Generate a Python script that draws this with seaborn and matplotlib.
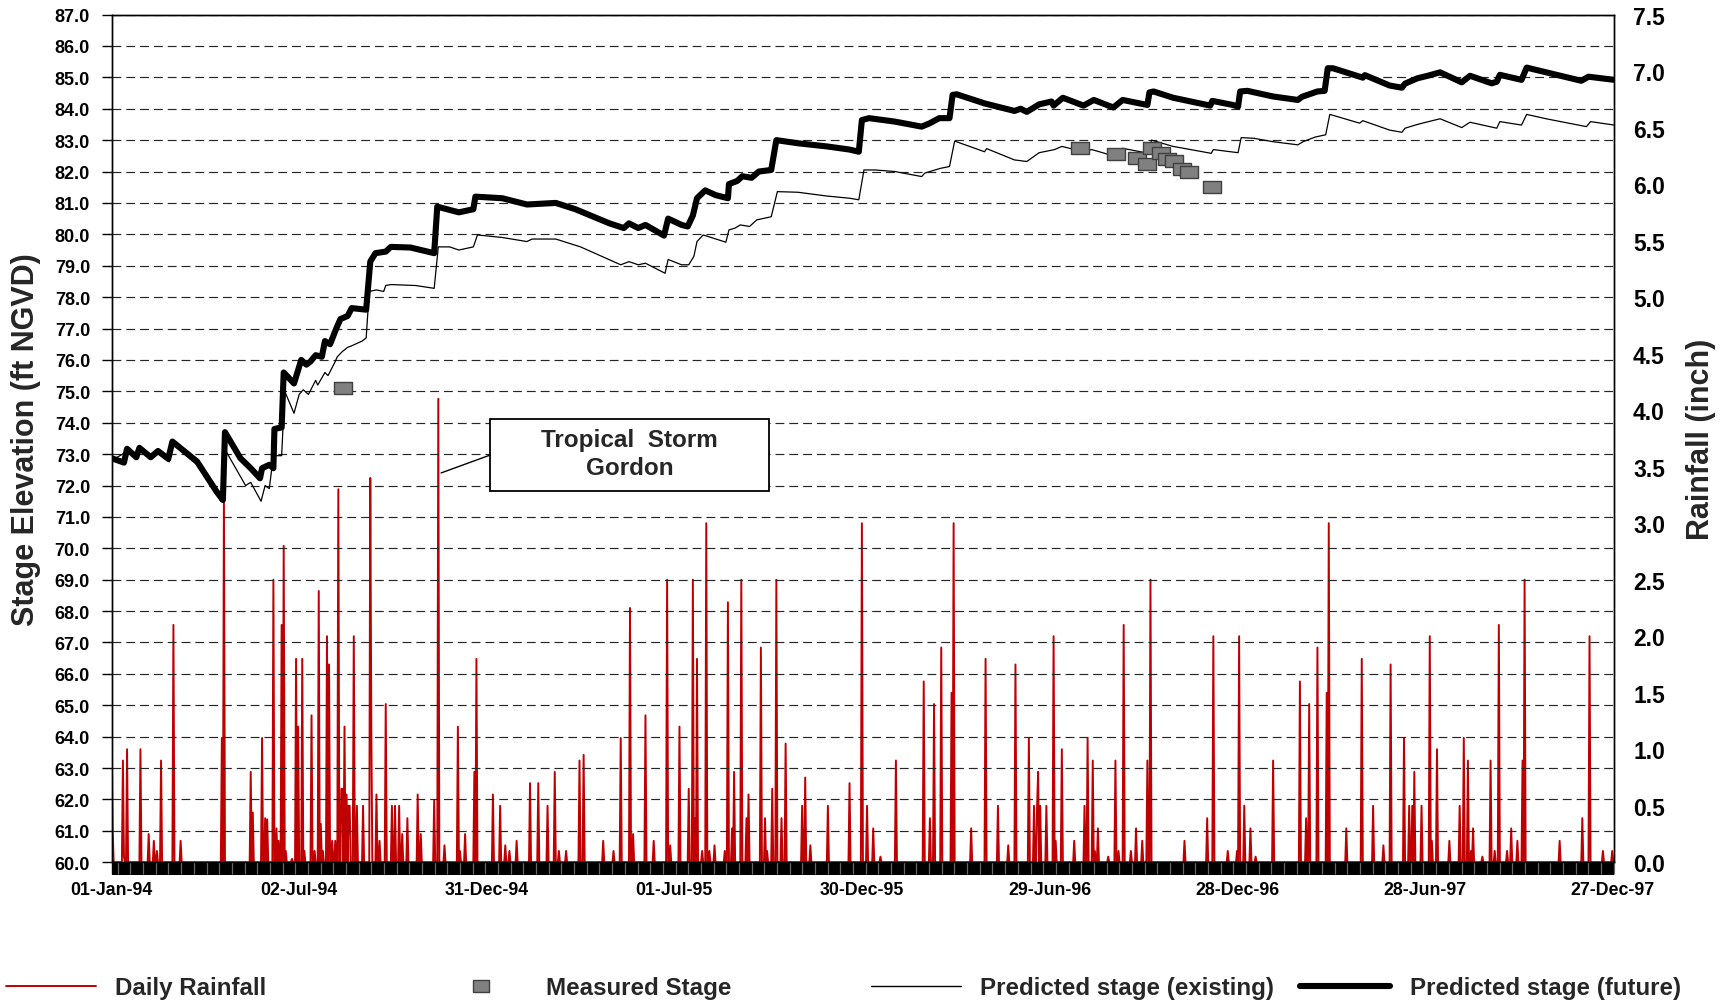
import numpy as np
import pandas as pd
import matplotlib
matplotlib.use("Agg")
import matplotlib.pyplot as plt
import matplotlib.dates as mdates
import seaborn as sns
from matplotlib.lines import Line2D
from matplotlib.patches import Rectangle
from matplotlib.ticker import FixedLocator, FormatStrFormatter

# ---------------- data ----------------
start_date = "1994-01-01"

# daily rainfall (inch): days since 01-Jan-94 with rain, and amount
rain_day = [0, 1, 11, 12, 15, 28, 36, 41, 44, 48, 60, 67, 107, 109, 135, 137, 146, 149, 151,
            157, 160, 162, 165, 167, 169, 175, 179, 181, 185, 187, 194, 197, 201, 203, 205,
            209, 211, 214, 217, 220, 223, 224, 226, 228, 230, 231, 235, 238, 244, 251, 252,
            257, 260, 266, 272, 275, 279, 282, 287, 297, 300, 313, 317, 323, 336, 338, 343,
            352, 354, 370, 377, 382, 386, 393, 406, 414, 423, 430, 434, 441, 454, 458, 477,
            487, 494, 503, 506, 518, 526, 539, 542, 551, 560, 564, 566, 568, 573, 577, 580,
            585, 595, 598, 602, 604, 611, 616, 618, 630, 634, 636, 641, 645, 650, 654, 670,
            673, 678, 695, 716, 728, 733, 739, 746, 761, 788, 794, 798, 805, 815, 817, 834,
            848, 860, 870, 877, 890, 895, 898, 899, 901, 907, 914, 916, 922, 934, 944, 947,
            952, 954, 957, 967, 974, 977, 982, 989, 994, 1000, 1005, 1008, 1041, 1063, 1069,
            1083, 1092, 1094, 1099, 1105, 1110, 1127, 1153, 1159, 1162, 1170, 1179, 1181,
            1198, 1213, 1224, 1234, 1241, 1254, 1259, 1262, 1264, 1271, 1279, 1281, 1286,
            1298, 1308, 1312, 1316, 1319, 1321, 1330, 1338, 1342, 1346, 1354, 1358, 1364,
            1369, 1371, 1405, 1427, 1434, 1447, 1456]
rain_in = [1.2, 0.3, 0.9, 0.05, 1.0, 1.0, 0.25, 0.19, 0.1, 0.9, 2.1, 0.19, 1.1, 3.24, 0.8, 0.44,
           1.1, 0.39, 0.38, 2.5, 0.3, 0.19, 2.1, 2.8, 0.1, 0.03, 1.8, 1.2, 1.8, 0.1, 1.3, 0.1,
           2.4, 0.34, 0.1, 2.0, 1.75, 0.19, 0.19, 3.3, 0.65, 0.65, 1.2, 0.6, 0.5, 0.5, 2.0,
           0.5, 0.5, 3.4, 1.2, 0.6, 0.19, 1.4, 0.5, 0.5, 0.5, 0.25, 0.39, 0.6, 0.25, 0.55,
           4.1, 0.15, 1.2, 0.1, 0.25, 0.8, 1.8, 0.6, 0.5, 0.15, 0.1, 0.19, 0.7, 0.7, 0.5, 0.8,
           0.1, 0.1, 0.9, 0.95, 0.19, 0.1, 1.1, 2.25, 0.25, 1.3, 0.19, 2.5, 0.15, 1.2, 0.65,
           2.5, 0.39, 1.8, 0.1, 3.0, 0.1, 0.15, 0.1, 2.3, 0.3, 0.8, 2.5, 0.39, 0.6, 1.9, 0.39,
           0.1, 0.65, 2.5, 0.39, 1.05, 0.5, 0.75, 0.15, 0.5, 0.7, 3.0, 0.5, 0.3, 0.05, 0.9,
           1.6, 0.39, 1.4, 1.9, 1.5, 3.0, 0.3, 1.8, 0.5, 0.15, 1.75, 1.1, 0.5, 0.5, 0.8, 0.5,
           0.5, 2.0, 0.19, 1.0, 0.19, 0.5, 1.1, 0.9, 0.1, 0.3, 0.05, 0.9, 0.1, 2.1, 0.1, 0.3,
           0.19, 0.9, 2.5, 0.19, 0.39, 2.0, 0.1, 0.1, 2.0, 0.5, 0.3, 0.05, 0.9, 1.6, 0.39,
           1.4, 1.9, 1.5, 3.0, 0.3, 1.8, 0.5, 0.15, 1.75, 1.1, 0.5, 0.5, 0.8, 0.5, 2.0, 0.19,
           1.0, 0.19, 0.5, 1.1, 0.9, 0.1, 0.3, 0.05, 0.9, 0.1, 2.1, 0.1, 0.3, 0.19, 0.9, 2.5,
           0.19, 0.39, 2.0, 0.1, 0.1]
n_days = 1459

# predicted stage (future), ft NGVD
fut_day = [0, 12, 15, 24, 27, 38, 45, 55, 59, 83, 102, 108, 110, 125, 135, 144, 146, 153, 157,
           158, 165, 167, 177, 184, 189, 193, 198, 204, 207, 212, 218, 222, 229, 233, 247, 251,
           256, 266, 271, 290, 313, 316, 337, 351, 353, 379, 403, 431, 450, 483, 497, 502, 511,
           518, 536, 540, 553, 559, 564, 568, 576, 586, 598, 599, 607, 612, 621, 628, 640, 645,
           666, 694, 716, 725, 728, 735, 760, 786, 794, 803, 813, 816, 820, 847, 876, 882, 888,
           900, 912, 914, 923, 943, 953, 972, 981, 1005, 1007, 1011, 1030, 1066, 1068, 1088,
           1093, 1095, 1102, 1127, 1151, 1155, 1170, 1177, 1180, 1185, 1214, 1216, 1240, 1252,
           1255, 1267, 1277, 1289, 1310, 1318, 1339, 1344, 1347, 1368, 1373, 1392, 1426, 1433,
           1458]
fut_ft = [72.87, 72.73, 73.17, 72.9, 73.2, 72.9, 73.1, 72.85, 73.4, 72.76, 71.8, 71.54, 73.7,
          72.87, 72.55, 72.23, 72.55, 72.66, 72.55, 73.8, 73.85, 75.6, 75.25, 76.0, 75.85, 75.95,
          76.15, 76.1, 76.6, 76.5, 77.0, 77.3, 77.4, 77.65, 77.6, 79.13, 79.4, 79.45, 79.6,
          79.58, 79.4, 80.88, 80.7, 80.8, 81.2, 81.15, 80.95, 81.0, 80.8, 80.35, 80.2, 80.35,
          80.2, 80.3, 79.96, 80.5, 80.3, 80.25, 80.6, 81.15, 81.4, 81.25, 81.15, 81.6, 81.7,
          81.85, 81.8, 82.0, 82.05, 83.0, 82.9, 82.8, 82.7, 82.63, 83.64, 83.7, 83.59, 83.43,
          83.54, 83.7, 83.7, 84.44, 84.46, 84.17, 83.93, 84.0, 83.9, 84.14, 84.23, 84.1, 84.35,
          84.1, 84.28, 84.04, 84.28, 84.12, 84.52, 84.55, 84.35, 84.1, 84.25, 84.12, 84.07,
          84.55, 84.57, 84.39, 84.28, 84.38, 84.55, 84.57, 85.29, 85.29, 84.99, 85.07, 84.74,
          84.67, 84.8, 84.97, 85.05, 85.16, 84.84, 85.05, 84.81, 84.86, 85.08, 84.92, 85.31,
          85.16, 84.89, 85.02, 84.92]

# predicted stage (existing), ft NGVD
ex_day = [0, 15, 24, 27, 38, 45, 56, 60, 83, 106, 110, 130, 135, 145, 149, 153, 157, 165, 168,
          177, 182, 186, 191, 198, 200, 207, 210, 217, 219, 224, 229, 233, 243, 247, 250, 257,
          264, 266, 271, 295, 313, 317, 328, 337, 351, 355, 379, 403, 408, 431, 455, 494, 502,
          511, 518, 537, 540, 553, 560, 565, 568, 574, 596, 599, 605, 610, 619, 626, 640, 646,
          666, 694, 716, 725, 730, 741, 760, 786, 789, 796, 804, 813, 818, 847, 849, 876, 888,
          900, 915, 922, 943, 951, 972, 981, 1006, 1009, 1030, 1067, 1069, 1093, 1096, 1108,
          1127, 1151, 1156, 1168, 1178, 1182, 1211, 1214, 1240, 1252, 1255, 1267, 1279, 1289,
          1310, 1318, 1344, 1347, 1368, 1373, 1392, 1431, 1435, 1458]
ex_ft = [72.8, 73.08, 72.85, 73.15, 72.85, 73.05, 72.75, 73.3, 72.66, 71.5, 73.15, 72.0, 72.1,
         71.5, 72.0, 71.9, 72.95, 72.95, 75.0, 74.3, 74.9, 75.05, 74.9, 75.35, 75.2, 75.6, 75.5,
         75.95, 76.1, 76.27, 76.4, 76.45, 76.6, 76.7, 78.18, 78.23, 78.18, 78.37, 78.4, 78.37,
         78.28, 79.6, 79.6, 79.5, 79.6, 79.98, 79.9, 79.77, 79.85, 79.85, 79.6, 79.03, 79.13,
         79.03, 79.08, 78.76, 79.2, 79.03, 79.03, 79.3, 79.77, 79.98, 79.75, 80.14, 80.2, 80.3,
         80.25, 80.46, 80.56, 81.36, 81.34, 81.22, 81.15, 81.1, 82.05, 82.05, 82.0, 81.84,
         81.95, 82.02, 82.1, 82.16, 82.97, 82.63, 82.73, 82.37, 82.32, 82.6, 82.7, 82.8, 82.63,
         82.7, 82.5, 82.74, 82.58, 83.0, 82.8, 82.58, 82.7, 82.6, 83.08, 83.06, 82.95, 82.85,
         82.95, 83.1, 83.17, 83.82, 83.54, 83.62, 83.32, 83.25, 83.38, 83.5, 83.6, 83.68, 83.4,
         83.57, 83.38, 83.59, 83.48, 83.82, 83.68, 83.43, 83.59, 83.48]

# measured stage, ft NGVD
meas_day = [225, 940, 975, 995, 1005, 1009, 1018, 1024, 1031, 1039, 1045, 1068]
meas_ft = [75.1, 82.76, 82.55, 82.42, 82.25, 82.76, 82.58, 82.4, 82.34, 82.07, 81.98, 81.5]

tick_day = [0, 182, 364, 546, 728, 910, 1092, 1274, 1456]
tick_labels = ["01-Jan-94", "02-Jul-94", "31-Dec-94", "01-Jul-95", "30-Dec-95",
               "29-Jun-96", "28-Dec-96", "28-Jun-97", "27-Dec-97"]

legend_labels = ["Daily Rainfall", "Measured Stage", "Predicted stage (existing)",
                 "Predicted stage (future)"]
annot_text = "Tropical  Storm\nGordon"

# ---------------- build tables ----------------
t0 = pd.Timestamp(start_date)
to_date = lambda d: t0 + pd.to_timedelta(np.asarray(d, dtype=float), unit="D")

rain_daily = np.zeros(n_days)
rain_daily[np.array(rain_day)] = rain_in
rain_df = pd.DataFrame({"date": to_date(np.arange(n_days)), "rain": rain_daily})
fut_df = pd.DataFrame({"date": to_date(fut_day), "stage": fut_ft})
ex_df = pd.DataFrame({"date": to_date(ex_day), "stage": ex_ft})
meas_df = pd.DataFrame({"date": to_date(meas_day), "stage": meas_ft})

# ---------------- style ----------------
sns.set_theme(style="white")
plt.rcParams["font.family"] = ["Liberation Sans", "DejaVu Sans"]
plt.rcParams["font.weight"] = "bold"
plt.rcParams["axes.labelweight"] = "bold"

RED = "#C00000"
fig = plt.figure(figsize=(17.3, 10.03), dpi=100)
ax = fig.add_axes([0.0645, 0.1393, 0.8686, 0.8452])
ax2 = ax.twinx()
ax.set_zorder(2)
ax2.set_zorder(1)
ax.patch.set_visible(False)
ax2.patch.set_visible(True)
ax2.patch.set_facecolor("white")

# rainfall (right axis)
sns.lineplot(data=rain_df, x="date", y="rain", ax=ax2, color=RED, lw=1.4,
             estimator=None, legend=False)

# stage lines (left axis)
sns.lineplot(data=ex_df, x="date", y="stage", ax=ax, color="black", lw=0.9,
             estimator=None, sort=False, legend=False, zorder=3)
sns.lineplot(data=fut_df, x="date", y="stage", ax=ax, color="black", lw=4.4,
             estimator=None, sort=False, legend=False, zorder=4,
             solid_joinstyle="round", solid_capstyle="round")
rect_marker = [(-1.5, -1.0), (1.5, -1.0), (1.5, 1.0), (-1.5, 1.0), (-1.5, -1.0)]
sns.scatterplot(data=meas_df, x="date", y="stage", ax=ax, marker=rect_marker, s=175,
                color="#808080", edgecolor="#404040", linewidth=1.0, zorder=5, legend=False)

# axes limits and ticks
x0 = mdates.date2num(t0)
ax.set_xlim(x0, x0 + 1458)
ax.set_ylim(60, 87)
ax2.set_ylim(0, 7.5)

ax.yaxis.set_major_locator(FixedLocator(np.arange(60, 87.01, 1.0)))
ax.yaxis.set_major_formatter(FormatStrFormatter("%.1f"))
ax2.yaxis.set_major_locator(FixedLocator(np.arange(0, 7.51, 0.5)))
ax2.yaxis.set_major_formatter(FormatStrFormatter("%.1f"))

ax.xaxis.set_major_locator(FixedLocator(x0 + np.array(tick_day, dtype=float)))
ax.set_xticklabels(tick_labels)
ax.xaxis.set_minor_locator(FixedLocator(x0 + np.arange(6, 1458, 12.3)))

ax.tick_params(axis="y", which="major", left=True, length=7, width=1, pad=8.5,
               labelsize=13, colors="black", direction="out")
ax.tick_params(axis="x", which="major", bottom=True, length=8.9, width=1, pad=4.8,
               labelsize=12.8, colors="black", direction="out")
ax.tick_params(axis="x", which="minor", bottom=True, length=8.9, width=0.9,
               color="#6a6a6a", direction="out")
ax2.tick_params(axis="y", right=True, length=0, pad=13.5, labelsize=16.5, colors="black")

# grid
ax.set_axisbelow(True)
ax.grid(axis="y", which="major", linestyle=(0, (7.5, 4.2)), color="#262626", lw=0.85)
ax.grid(axis="x", visible=False)
ax2.grid(False)

# black tick band under the x axis
ax.add_patch(Rectangle((0, -0.0146), 1, 0.0146, transform=ax.transAxes, clip_on=False,
                       facecolor="black", edgecolor="none", zorder=0.1))

for a in (ax, ax2):
    for s in a.spines.values():
        s.set_color("black")
        s.set_linewidth(1.0)

ax.set_xlabel("")
ax.set_ylabel("Stage Elevation (ft NGVD)", fontsize=22, fontweight="bold")
ax.yaxis.set_label_coords(-0.047, 0.5)
ax2.set_ylabel("Rainfall (inch)", fontsize=22, fontweight="bold", rotation=90)
ax2.yaxis.set_label_coords(1.0477, 0.5)

# annotation box
ax.add_patch(Rectangle((x0 + 367.3, 71.82), 270.7, 2.30, facecolor="white",
                       edgecolor="black", lw=1.3, zorder=6))
ax.text(x0 + 502.7, 73.02, annot_text, ha="center", va="center", fontsize=17.5,
        fontweight="bold", zorder=7, linespacing=1.28)
ax.add_line(Line2D([x0 + 319.7, x0 + 367.3], [72.4, 72.97], color="black", lw=1.0, zorder=6))

# legend
handles = [
    Line2D([], [], color=RED, lw=1.4),
    Line2D([], [], marker=rect_marker, markersize=12, linestyle="none",
           markerfacecolor="#808080", markeredgecolor="#404040", markeredgewidth=1.0),
    Line2D([], [], color="black", lw=1.0),
    Line2D([], [], color="black", lw=4.4),
]
leg_x = [5.5, 436, 870.5, 1300]
for h, lab, xp in zip(handles, legend_labels, leg_x):
    fig.legend(handles=[h], labels=[lab], loc="center left",
               bbox_to_anchor=(xp / 1730, 1 - 988.5 / 1003), frameon=False,
               borderpad=0, borderaxespad=0, handlelength=3.73, handletextpad=0.82,
               prop={"family": ["Liberation Sans", "DejaVu Sans"], "weight": "bold",
                     "size": 17.4})

fig.savefig("out.png", dpi=100, facecolor="white")
